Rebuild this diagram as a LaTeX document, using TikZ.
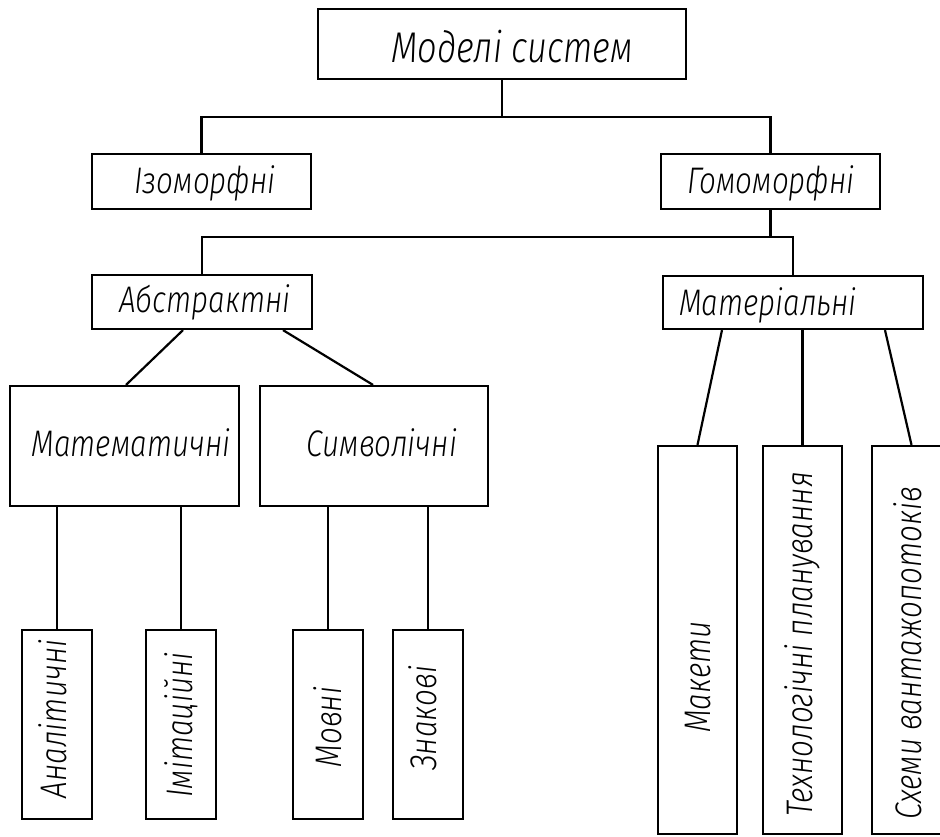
\documentclass[tikz,border=0pt]{standalone}
\usepackage{fontspec}
\newfontfamily\gost{Fira Sans Light Italic}[FakeStretch=0.8]
\begin{document}
\begin{tikzpicture}[x=1pt,y=-1pt,
  box/.style={draw, line width=2.2pt, rectangle, inner sep=0pt},
  wire/.style={line width=2.2pt},
  lbl/.style={inner sep=0pt, font=\gost\fontsize{37}{37}\selectfont, text height=25.5pt, text depth=0pt, anchor=center},
  lblbig/.style={lbl, font=\gost\fontsize{43}{43}\selectfont, text height=29.6pt}]
\clip (0,0) rectangle (940,836);
% boxes
\node[box, minimum width=368pt, minimum height=70pt] (top) at (502,44) {};
\node[box, minimum width=219pt, minimum height=55pt] (izo) at (201.5,181.5) {};
\node[box, minimum width=219pt, minimum height=55pt] (homo) at (770.5,181.5) {};
\node[box, minimum width=220pt, minimum height=54pt] (abs) at (202,302) {};
\node[box, minimum width=260pt, minimum height=53pt] (mat) at (793,302.5) {};
\node[box, minimum width=229pt, minimum height=120pt] (math) at (124.5,446) {};
\node[box, minimum width=228pt, minimum height=120pt] (sym) at (374,446) {};
\node[box, minimum width=70pt, minimum height=189pt] (an) at (57,724.5) {};
\node[box, minimum width=70pt, minimum height=189pt] (im) at (181,724.5) {};
\node[box, minimum width=70pt, minimum height=189pt] (mov) at (328,724.5) {};
\node[box, minimum width=70pt, minimum height=189pt] (zn) at (428,724.5) {};
\node[box, minimum width=79pt, minimum height=388pt] (mak) at (697.5,640) {};
\node[box, minimum width=79pt, minimum height=388pt] (tech) at (802.5,640) {};
\node[box, minimum width=79pt, minimum height=388pt] (sch) at (911.5,640) {};
% labels
\node[lblbig] (ttop) at (512,48) {Моделі систем};
\node[lbl] (tizo) at (205,181) {Ізоморфні};
\node[lbl] (thomo) at (771,181) {Гомоморфні};
\node[lbl] (tabs) at (205,300) {Абстрактні};
\node[lbl] (tmat) at (768,303) {Матеріальні};
\node[lbl] (tmath) at (131,443.5) {Математичні};
\node[lbl] (tsym) at (382,444) {Символічні};
\node[lbl, rotate=90] (tan) at (53.5,719) {Аналітичні};
\node[lbl, rotate=90] (tim) at (180,725) {Імітаційні};
\node[lbl, rotate=90] (tmov) at (329,727) {Мовні};
\node[lbl, rotate=90] (tzn) at (424,718) {Знакові};
\node[lbl, rotate=90] (tmak) at (697.5,677) {Макети};
\node[lbl, rotate=90] (ttech) at (800,644) {Технологічні планування};
\node[lbl, rotate=90] (tsch) at (908.5,653) {Схеми вантажопотоків};
% connectors
\coordinate (bus1) at (502,117);
\coordinate (bus2) at (770.5,237);
\draw[wire] (top.south) -- (bus1);
\draw[wire] (izo.north) |- (bus1) -| (homo.north);
\draw[wire] (homo.south) -- (bus2);
\draw[wire] (abs.north) |- (bus2) -| (mat.north);
\draw[wire] ([xshift=-19pt]abs.south) -- ([xshift=1.5pt]math.north);
\draw[wire] ([xshift=81pt]abs.south) -- ([xshift=-1pt]sym.north);
\draw[wire] (an.north) -- (an.north |- math.south);
\draw[wire] (im.north) -- (im.north |- math.south);
\draw[wire] (mov.north) -- (mov.north |- sym.south);
\draw[wire] (zn.north) -- (zn.north |- sym.south);
\draw[wire] ([xshift=-71pt]mat.south) -- (mak.north);
\draw[wire] (tech.north) -- (tech.north |- mat.south);
\draw[wire] ([xshift=92pt]mat.south) -- (sch.north);
\end{tikzpicture}
\end{document}
